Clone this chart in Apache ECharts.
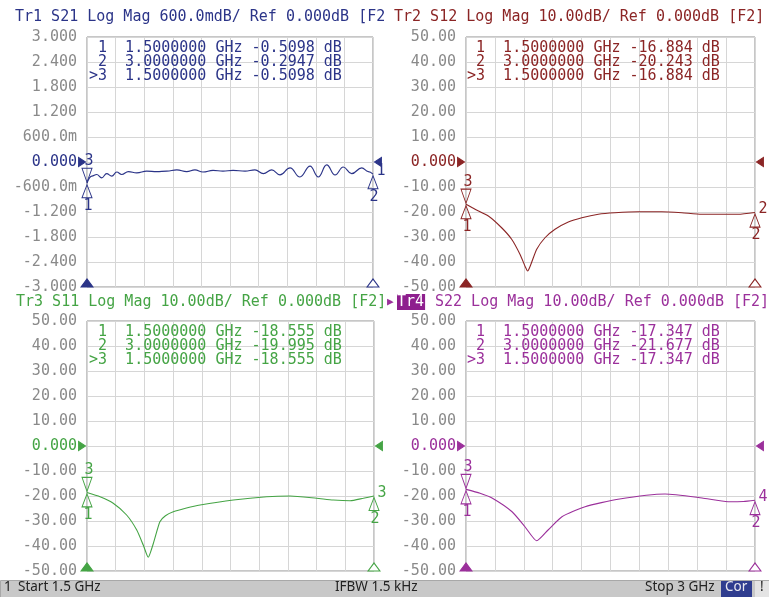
<!DOCTYPE html>
<html><head><meta charset="utf-8">
<script src="https://cdn.jsdelivr.net/npm/echarts@6/dist/echarts.min.js"></script>
<style>html,body{margin:0;padding:0;background:#fff}#c{width:769px;height:597px}</style>
</head><body><div id="c"></div>
<script>
// ---------------- DATA ----------------
const s21Freq = [1.5,1.525,1.551,1.577,1.603,1.630,1.656,1.682,1.717,1.761,1.813,1.866,1.918,1.971,2.023,2.066,2.108,2.161,2.213,2.266,2.329,2.381,2.425,2.469,2.512,2.565,2.617,2.670,2.713,2.757,2.801,2.844,2.888,2.941,2.975,3.0];
const s21Val  = [-0.51,-0.34,-0.30,-0.38,-0.28,-0.34,-0.24,-0.30,-0.23,-0.26,-0.22,-0.23,-0.22,-0.19,-0.23,-0.19,-0.24,-0.20,-0.22,-0.20,-0.22,-0.19,-0.28,-0.19,-0.31,-0.14,-0.36,-0.10,-0.36,-0.07,-0.31,-0.12,-0.28,-0.14,-0.23,-0.29];

const s12Freq = [1.5,1.547,1.616,1.685,1.737,1.780,1.810,1.820,1.837,1.867,1.910,1.962,2.031,2.101,2.187,2.273,2.394,2.516,2.620,2.723,2.810,2.913,3.0];
const s12Val  = [-16.9,-18.9,-21.6,-26.3,-30.9,-36.9,-42.3,-43.6,-40.9,-34.9,-30.3,-26.9,-24.0,-22.3,-20.9,-20.3,-19.9,-19.9,-20.3,-20.9,-20.9,-20.9,-20.2];

const s11Freq = [1.5,1.568,1.637,1.707,1.760,1.794,1.820,1.847,1.881,1.910,1.951,2.020,2.091,2.265,2.439,2.561,2.700,2.787,2.875,2.944,3.0];
const s11Val  = [-18.6,-20.3,-22.9,-27.6,-33.6,-39.6,-44.5,-38.9,-30.3,-27.9,-26.3,-24.8,-23.6,-21.6,-20.3,-20.0,-20.9,-21.6,-21.9,-20.9,-20.0];

const s22Freq = [1.5,1.573,1.635,1.739,1.806,1.867,1.926,1.998,2.118,2.289,2.533,2.725,2.860,2.940,3.0];
const s22Val  = [-17.35,-18.9,-20.8,-26.3,-32.3,-37.9,-33.6,-28.3,-24.3,-21.3,-19.2,-20.8,-22.3,-22.2,-21.7];

const markerIds   = ['1','2','>3'];
const markerFreqs = ['1.5000000','3.0000000','1.5000000'];
const markerGHz   = [1.5, 3.0, 1.5];
const mkS21 = ['-0.5098','-0.2947','-0.5098'];
const mkS12 = ['-16.884','-20.243','-16.884'];
const mkS11 = ['-18.555','-19.995','-18.555'];
const mkS22 = ['-17.347','-21.677','-17.347'];

const ticksS21 = ['3.000','2.400','1.800','1.200','600.0m','0.000','-600.0m','-1.200','-1.800','-2.400','-3.000'];
const ticksDb  = ['50.00','40.00','30.00','20.00','10.00','0.000','-10.00','-20.00','-30.00','-40.00','-50.00'];

const headers = ['Tr1 S21 Log Mag 600.0mdB/ Ref 0.000dB [F2',
                 'Tr2 S12 Log Mag 10.00dB/ Ref 0.000dB [F2]',
                 'Tr3 S11 Log Mag 10.00dB/ Ref 0.000dB [F2]',
                 'S22 Log Mag 10.00dB/ Ref 0.000dB [F2]'];
const traceNums = ['1','2','3','4'];
const startStop = [1.5, 3.0];

// ---------------- STYLE / LAYOUT ----------------
const MONO = 'DejaVu Sans Mono';
const panels = [
  {f:s21Freq, v:s21Val, mk:mkS21, ticks:ticksS21, min:-3, max:3, itv:0.6, color:'#2b3488', smooth:0.45, mono:'x',
   grid:{left:87, top:37, width:286, height:250}, head:[15,10], table:[89,41]},
  {f:s12Freq, v:s12Val, mk:mkS12, ticks:ticksDb, min:-50, max:50, itv:10, color:'#8b2525', smooth:0.2, mono:null,
   grid:{left:466, top:37, width:289, height:250}, head:[394,10], table:[467,41]},
  {f:s11Freq, v:s11Val, mk:mkS11, ticks:ticksDb, min:-50, max:50, itv:10, color:'#45a445', smooth:0.2, mono:null,
   grid:{left:87, top:321, width:287, height:250}, head:[16,295], table:[89,325]},
  {f:s22Freq, v:s22Val, mk:mkS22, ticks:ticksDb, min:-50, max:50, itv:10, color:'#9b309b', smooth:0.2, mono:null,
   grid:{left:466, top:321, width:289, height:250}, head:[435,295], table:[467,325]}
];

const grids=[], xAxes=[], yAxes=[], series=[], titles=[];
panels.forEach((p,i)=>{
  grids.push(Object.assign({show:true, borderColor:'#8f8f8f', borderWidth:1, backgroundColor:'transparent'}, p.grid));
  xAxes.push({gridIndex:i, type:'value', min:startStop[0], max:startStop[1], interval:0.15,
    axisLabel:{show:false}, axisLine:{show:false}, axisTick:{show:false},
    splitLine:{show:true, lineStyle:{color:'#d6d6d6', width:1}}});
  yAxes.push({gridIndex:i, type:'value', min:p.min, max:p.max, interval:p.itv,
    axisLine:{show:false}, axisTick:{show:false},
    splitLine:{show:true, lineStyle:{color:'#d6d6d6', width:1}},
    axisLabel:{margin:10, color:'#8a8a8a', fontFamily:MONO, fontSize:15,
      formatter:(v)=>{const k=Math.round((p.max-v)/p.itv); const s=p.ticks[k]; return Math.abs(v)<1e-9?'{z|'+s+'}':s;},
      rich:{z:{color:p.color, fontFamily:MONO, fontSize:15}}}});
  const c=p.color;
  const m1=parseFloat(p.mk[0]), m2=parseFloat(p.mk[1]);
  const tri=(coord, rot, off, fill, size)=>({coord, symbol:'triangle', symbolRotate:rot, symbolOffset:off,
      symbolSize:size||[10,14], itemStyle:{color:fill, borderColor:c, borderWidth:1}, label:{show:false}});
  const lab=(coord, txt, off)=>({coord, symbol:'circle', symbolSize:0,
      label:{show:true, position:'inside', formatter:txt, offset:off, color:c, fontFamily:MONO, fontSize:15}});
  const hollow='rgba(255,255,255,0)';
  const s={type:'line', xAxisIndex:i, yAxisIndex:i, data:p.f.map((x,j)=>[x,p.v[j]]),
    showSymbol:false, symbol:'none', smooth:p.smooth, silent:true, animation:false,
    lineStyle:{color:c, width:1.1},
    markPoint:{silent:true, animation:false, data:[
      tri([markerGHz[0],m1], 180, [0,-8], hollow),
      tri([markerGHz[0],m1], 0, [0,8], hollow, [10,13]),
      tri([markerGHz[1],m2], 0, [0,8], hollow, [10,13]),
      lab([markerGHz[0],m1], '3', [2,-22]),
      lab([markerGHz[0],m1], '1', [1,23]),
      lab([markerGHz[1],m2], '2', [1,23]),
      lab([markerGHz[1],m2], traceNums[i], [8,-3]),
      tri([startStop[0],0], -90, [-5,0], c, [9,7]),
      tri([startStop[1],0], 90, [5,0], c, [9,7]),
      tri([startStop[0],p.min], 0, [0,-4], c, [12,8]),
      tri([startStop[1],p.min], 0, [0,-4], '#ffffff', [12,8])
    ]}};
  if(p.mono) s.smoothMonotone=p.mono;
  series.push(s);
  titles.push({text:headers[i], left:p.head[0], top:p.head[1], padding:0,
    textStyle:{color:c, fontFamily:MONO, fontSize:15, fontWeight:'normal'}});
  const rows = markerIds.map((id,k)=>(id.length<2?' '+id:id)+'  '+markerFreqs[k]+' GHz '+p.mk[k]+' dB');
  titles.push({text:rows.join('\n'), left:p.table[0], top:p.table[1], padding:0,
    textStyle:{color:c, fontFamily:MONO, fontSize:15, fontWeight:'normal', lineHeight:14}});
});
// Tr4 active tag
titles.push({text:'Tr4', left:397, top:294, padding:[1,1,0,0], backgroundColor:'#8e1f8e',
  textStyle:{color:'#ffffff', fontFamily:MONO, fontSize:15, fontWeight:'normal'}});
titles.push({text:'▶', left:387, top:297, padding:0,
  textStyle:{color:'#9b309b', fontFamily:MONO, fontSize:11, fontWeight:'normal'}});

const SANS='Noto Sans';
const option = {
  animation:false,
  backgroundColor:'#ffffff',
  title:titles, grid:grids, xAxis:xAxes, yAxis:yAxes, series:series,
  graphic:[
    {type:'rect', left:0, top:580, shape:{width:769, height:17}, style:{fill:'#c8c8c8', stroke:'#a8a8a8', lineWidth:1}},
    {type:'text', left:4, top:580, style:{text:'1', fill:'#222', font:'13.5px '+SANS}},
    {type:'text', left:18, top:580, style:{text:'Start 1.5 GHz', fill:'#222', font:'13.5px '+SANS}},
    {type:'text', left:335, top:580, style:{text:'IFBW 1.5 kHz', fill:'#222', font:'13.5px '+SANS}},
    {type:'text', left:645, top:580, style:{text:'Stop 3 GHz', fill:'#222', font:'13.5px '+SANS}},
    {type:'rect', left:721, top:581, shape:{width:31, height:16}, style:{fill:'#2f3d8f'}},
    {type:'text', left:725, top:580, style:{text:'Cor', fill:'#e8e8f0', font:'13.5px '+SANS}},
    {type:'rect', left:755, top:581, shape:{width:14, height:16}, style:{fill:'#e4e4e4'}},
    {type:'text', left:760, top:580, style:{text:'!', fill:'#222', font:'13.5px '+SANS}}
  ]
};
const chart = echarts.init(document.getElementById('c'), null, {renderer:'canvas'});
chart.setOption(option);
</script></body></html>
